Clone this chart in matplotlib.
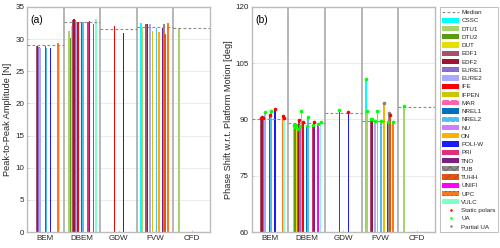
import numpy as np
import matplotlib
matplotlib.use('Agg')
import matplotlib.pyplot as plt
from matplotlib.patches import Patch
from matplotlib.lines import Line2D

plt.rcParams['font.family'] = ['Liberation Sans', 'DejaVu Sans']
plt.rcParams['hatch.linewidth'] = 0.4

methods = ['BEM', 'DBEM', 'GDW', 'FVW', 'CFD']
models = ['CSSC', 'DTU1', 'DTU2', 'DUT', 'EDF1', 'EDF2', 'EURE1', 'EURE2', 'IFE',
          'IFPEN', 'MAR', 'NREL1', 'NREL2', 'NU', 'ON', 'POLI-W', 'PRI', 'TNO',
          'TUB', 'TUHH', 'UNIFI', 'UPC', 'VULC']

# Peak-to-peak amplitude [N] per method
amp_bem = {'EDF1': 29.0, 'EDF2': 29.0, 'EURE1': 28.8, 'EURE2': 28.6, 'NREL1': 29.0,
           'NREL2': 28.6, 'POLI-W': 28.6, 'UPC': 29.4, 'VULC': 29.1}
amp_dbem = {'DTU1': 31.3, 'DTU2': 30.1, 'DUT': 32.1, 'EDF1': 33.0, 'EDF2': 33.2,
            'EURE1': 32.9, 'EURE2': 32.7, 'IFE': 32.7, 'NREL1': 32.7, 'NREL2': 32.6,
            'PRI': 32.7, 'TNO': 32.8, 'UNIFI': 32.3, 'VULC': 33.1}
amp_gdw = {'IFE': 32.0, 'POLI-W': 30.9}
amp_fvw = {'CSSC': 32.5, 'DTU1': 31.8, 'EDF1': 32.4, 'EDF2': 32.4, 'EURE2': 32.4,
           'IFPEN': 31.2, 'NREL2': 31.7, 'ON': 31.1, 'TNO': 31.8, 'TUB': 32.4,
           'TUHH': 30.8, 'UPC': 32.5}
amp_cfd = {'DTU1': 31.8}
amp_median = [29.05, 32.7, 31.5, 31.85, 31.8]

# Phase shift [deg] per method
ph_bem = {'EDF1': 90.4, 'EDF2': 90.6, 'EURE1': 90.5, 'EURE2': 92.1, 'NREL1': 91.2,
          'NREL2': 92.2, 'POLI-W': 92.8, 'UPC': 90.8, 'VULC': 90.3}
ph_dbem = {'DTU1': 88.4, 'DTU2': 88.0, 'DUT': 88.6, 'EDF1': 87.5, 'EDF2': 89.9,
           'EURE1': 88.3, 'EURE2': 92.3, 'IFE': 89.2, 'NREL1': 88.2, 'NREL2': 90.6,
           'PRI': 88.5, 'TNO': 89.2, 'UNIFI': 88.7, 'VULC': 89.4}
ph_gdw = {'IFE': 92.5, 'POLI-W': 92.1}
ph_fvw = {'CSSC': 100.7, 'DTU1': 92.2, 'EDF1': 90.0, 'EDF2': 90.0, 'EURE2': 89.5,
          'IFPEN': 92.3, 'NREL2': 89.6, 'ON': 94.3, 'TNO': 89.4, 'TUB': 91.8,
          'TUHH': 91.2, 'UPC': 89.4}
ph_cfd = {'DTU1': 93.6}
ph_median = [90.1, 89.0, 91.8, 89.5, 93.3]

# Aerodynamic model: S = static polars, U = UA, P = partial UA
aero_bem = {'EDF1': 'S', 'EDF2': 'S', 'EURE1': 'S', 'EURE2': 'U', 'NREL1': 'S',
            'NREL2': 'U', 'POLI-W': 'S', 'UPC': 'S', 'VULC': 'S'}
aero_dbem = {'DTU1': 'U', 'DTU2': 'U', 'DUT': 'U', 'EDF1': 'U', 'EDF2': 'S',
             'EURE1': 'U', 'EURE2': 'U', 'IFE': 'S', 'NREL1': 'U', 'NREL2': 'U',
             'PRI': 'U', 'TNO': 'S', 'UNIFI': 'U', 'VULC': 'U'}
aero_gdw = {'IFE': 'U', 'POLI-W': 'S'}
aero_fvw = {'CSSC': 'U', 'DTU1': 'U', 'EDF1': 'U', 'EDF2': 'U', 'EURE2': 'U',
            'IFPEN': 'U', 'NREL2': 'U', 'ON': 'P', 'TNO': 'U', 'TUB': 'P',
            'TUHH': 'S', 'UPC': 'U'}
aero_cfd = {'DTU1': 'U'}
aero_labels = {'S': 'Static polars', 'U': 'UA', 'P': 'Partial UA'}

colors = {'CSSC': '#00FFFF', 'DTU1': '#A6D36A', 'DTU2': '#5C9A12', 'DUT': '#E6E000',
          'EDF1': '#A8506A', 'EDF2': '#A0152F', 'EURE1': '#8A6FD4', 'EURE2': '#A9A9FF',
          'IFE': '#FF0000', 'IFPEN': '#C8C800', 'MAR': '#FF66AA', 'NREL1': '#0072BD',
          'NREL2': '#4DBEEE', 'NU': '#CC80FF', 'ON': '#FFB000', 'POLI-W': '#1A1AFF',
          'PRI': '#E0307A', 'TNO': '#7E2080', 'TUB': '#8C8C8C', 'TUHH': '#F0500A',
          'UNIFI': '#FF00FF', 'UPC': '#FF7820', 'VULC': '#80FFC8'}
hatches = {'EURE1': '...', 'MAR': '..', 'NREL2': '...', 'TUB': 'xxxx',
           'TUHH': '////', 'UPC': '....'}
mcolors = {'S': '#FF0000', 'U': '#00FF00', 'P': '#808080'}

amp_groups = [amp_bem, amp_dbem, amp_gdw, amp_fvw, amp_cfd]
ph_groups = [ph_bem, ph_dbem, ph_gdw, ph_fvw, ph_cfd]
aero_groups = [aero_bem, aero_dbem, aero_gdw, aero_fvw, aero_cfd]

fig = plt.figure(figsize=(5.0, 2.48), dpi=100)
axA = fig.add_axes([0.054, 0.0645, 0.366, 0.9075])
axB = fig.add_axes([0.503, 0.0645, 0.367, 0.9075])

n = len(models)
gw = 0.8
slot = gw / n
bw = slot * 1.25
txtc = '#262626'
framec = '#bcbcbc'


def style(ax, ylim, yticks):
    ax.set_xlim(-0.5, len(methods) - 0.5)
    ax.set_ylim(*ylim)
    ax.set_yticks(yticks)
    ax.set_xticks(range(len(methods)))
    ax.set_xticklabels(methods)
    ax.tick_params(axis='both', labelsize=5.8, colors=txtc, direction='in',
                   length=1.5, width=0.5, pad=2)
    ax.tick_params(axis='both', color=framec)
    ax.yaxis.grid(True, color='#e8e8e8', lw=0.6)
    ax.set_axisbelow(True)
    for s in ax.spines.values():
        s.set_color(framec)
        s.set_linewidth(1.0)
    for k in range(len(methods) - 1):
        ax.axvline(k + 0.5, color='#b0b0b0', lw=1.3, zorder=1)


def draw(ax, groups, medians, aero=None):
    for j, g in enumerate(groups):
        for name, v in g.items():
            i = models.index(name)
            x = j - gw / 2 + (i + 0.5) * slot
            ax.bar(x, v, width=bw, color=colors[name], linewidth=0, zorder=2)
            if aero is not None:
                ax.plot(x, v, 'o', ms=2.6, mew=0, color=mcolors[aero[j][name]], zorder=4)
        ax.plot([j - 0.5, j + 0.5], [medians[j], medians[j]], color='#8c8c8c',
                lw=0.8, ls=(0, (2.5, 2)), zorder=3)


draw(axA, amp_groups, amp_median)
style(axA, (0, 35), np.arange(0, 36, 5))
axA.set_ylabel('Peak-to-Peak Amplitude [N]', fontsize=6.6, color=txtc, labelpad=2)
axA.text(0.02, 0.965, '(a)', transform=axA.transAxes, ha='left', va='top',
         fontsize=7.5, color='#000000')

draw(axB, ph_groups, ph_median, aero_groups)
style(axB, (60, 120), np.arange(60, 121, 15))
axB.set_ylabel('Phase Shift w.r.t. Platform Motion [deg]', fontsize=6.6, color=txtc,
               labelpad=2)
axB.text(0.02, 0.965, '(b)', transform=axB.transAxes, ha='left', va='top',
         fontsize=7.5, color='#000000')

handles = [Line2D([], [], color='#8c8c8c', lw=0.8, ls=(0, (2.5, 2)))]
labels = ['Median']
for name in models:
    hc = '#FFFFFF' if name in ('NREL2', 'MAR', 'POLI-W') else '#5a5a5a'
    handles.append(Patch(facecolor=colors[name],
                         edgecolor=hc if name in hatches else colors[name],
                         hatch=hatches.get(name), linewidth=0))
    labels.append(name)
for key in ['S', 'U', 'P']:
    handles.append(Line2D([], [], ls='none', marker='o', ms=1.8, mew=0, color=mcolors[key]))
    labels.append(aero_labels[key])

leg = fig.legend(handles, labels, loc='center',
                 bbox_to_anchor=(0.882, 0.0645, 0.112, 0.9075),
                 fontsize=4.5, frameon=True, fancybox=False, edgecolor='#a0a0a0',
                 handlelength=2.7, handleheight=0.9, handletextpad=0.3,
                 labelspacing=0.4, borderpad=0.35, borderaxespad=0)
leg.get_frame().set_linewidth(0.6)
for t in leg.get_texts():
    t.set_color(txtc)

fig.savefig('out.png', dpi=100)
